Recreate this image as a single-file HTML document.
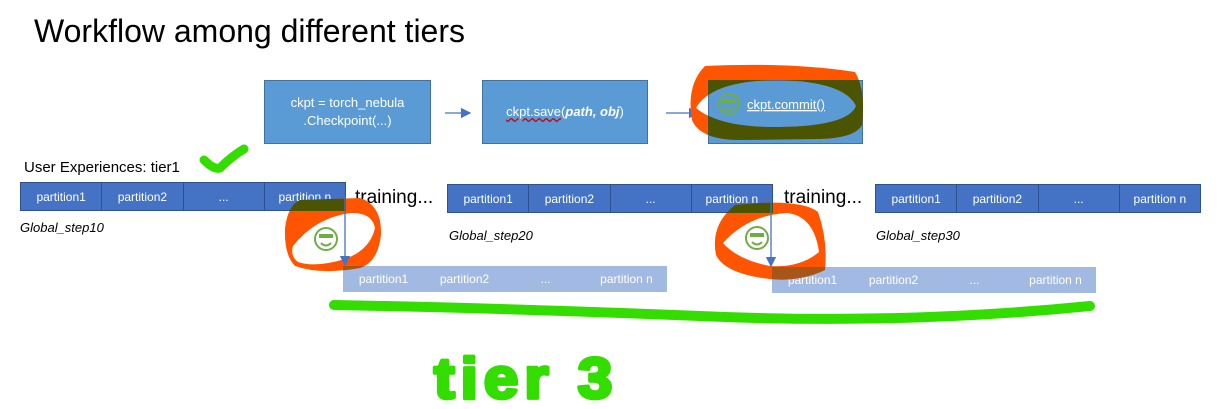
<!DOCTYPE html>
<html><head><meta charset="utf-8"><style>
body{margin:0;width:1228px;height:409px;background:#fff;position:relative;overflow:hidden;font-family:"Liberation Sans",sans-serif}
.a{position:absolute}
.box{position:absolute;background:#5b9bd5;border:1px solid #41719c;color:#fff;font-size:13px;display:flex;align-items:center;justify-content:center;text-align:center;line-height:18px;box-sizing:border-box}
.bar{position:absolute;height:29px;display:flex;background:#4472c4;border:1px solid #2f528f;box-sizing:border-box}
.bar div{flex:1;color:#fff;font-size:12px;display:flex;align-items:center;justify-content:center;border-right:1px solid #2f528f}
.bar div:last-child{border-right:none}
.lbar{position:absolute;height:26px;display:flex;background:#a2b9e1}
.lbar div{flex:1;color:#fff;font-size:12px;display:flex;align-items:center;justify-content:center}
.it{position:absolute;font-style:italic;font-size:13px;color:#000}
.tr{position:absolute;font-size:19px;color:#000}
</style></head><body>
<div class="a" style="left:34px;top:13px;font-size:32px;color:#000">Workflow among different tiers</div>
<div class="box" style="left:264px;top:80px;width:167px;height:64px">ckpt = torch_nebula<br>.Checkpoint(...)</div>
<div class="box" style="left:482px;top:80px;width:166px;height:64px"><span style="text-decoration:underline wavy #c00">ckpt.save</span>(<b><i>path, obj</i></b>)</div>
<div class="box" style="left:708px;top:80px;width:155px;height:64px"></div>
<div class="a" style="left:24px;top:159px;font-size:15px">User Experiences: tier1</div>
<div class="bar" style="left:20px;top:182px;width:326px"><div>partition1</div><div>partition2</div><div>...</div><div>partition n</div></div>
<div class="bar" style="left:447px;top:184px;width:326px"><div>partition1</div><div>partition2</div><div>...</div><div>partition n</div></div>
<div class="bar" style="left:875px;top:184px;width:326px"><div>partition1</div><div>partition2</div><div>...</div><div>partition n</div></div>
<div class="tr" style="left:355px;top:187px">training...</div>
<div class="tr" style="left:784px;top:187px">training...</div>
<div class="it" style="left:20px;top:220px">Global_step10</div>
<div class="it" style="left:449px;top:228px">Global_step20</div>
<div class="it" style="left:876px;top:228px">Global_step30</div>
<div class="lbar" style="left:343px;top:266px;width:324px"><div>partition1</div><div>partition2</div><div>...</div><div>partition n</div></div>
<div class="lbar" style="left:772px;top:267px;width:324px"><div>partition1</div><div>partition2</div><div>...</div><div>partition n</div></div>
<svg class="a" style="left:0;top:0" width="1228" height="409">
<defs>
<marker id="m" markerWidth="8" markerHeight="8" refX="7" refY="4" orient="auto"><path d="M0,0L8,4L0,8z" fill="#4472c4"/></marker>
<clipPath id="c1"><rect x="708" y="80" width="155" height="64"/></clipPath>
<clipPath id="c2"><rect x="20" y="182" width="326" height="29"/><rect x="447" y="184" width="326" height="29"/></clipPath>
<clipPath id="c3"><rect x="343" y="266" width="324" height="26"/><rect x="772" y="267" width="324" height="26"/></clipPath>
<path id="r0" fill-rule="evenodd" d="M705,66 Q790,62 855,72 Q866,90 862,125 Q855,138 820,139 L740,140 Q700,140 692,120 Q686,85 705,66Z M696,108 Q712,80 780,80 Q845,82 856,106 Q848,126 780,127 Q720,128 696,108Z"/>
<path id="r2" fill-rule="evenodd" d="M735,205 Q800,198 818,212 Q828,240 825,270 Q800,282 770,279 Q725,274 716,255 Q710,225 735,205Z M723,243 Q748,215 787,213 Q814,216 819,252 Q800,268 770,266 Q738,260 723,243Z"/>
<path id="r1" fill-rule="evenodd" d="M300,200 L360,198 Q382,205 381,235 Q378,262 360,268 Q320,275 295,266 Q284,255 285,228 Q288,205 300,200Z M293,246 Q315,218 350,213 Q372,212 375,228 Q370,250 345,259 Q315,268 298,262 Q290,256 293,246Z"/>
</defs>
<line x1="445" y1="113" x2="470" y2="113" stroke="#4472c4" stroke-width="1.3" marker-end="url(#m)"/>
<line x1="666" y1="113" x2="698" y2="113" stroke="#4472c4" stroke-width="1.3" marker-end="url(#m)"/>
<g fill="#ff5500"><use href="#r0"/><use href="#r1"/><use href="#r2"/></g>
<g clip-path="url(#c1)" fill="#4b5400"><use href="#r0"/></g>
<g clip-path="url(#c2)" fill="#4b5400"><use href="#r1"/><use href="#r2"/></g>
<g clip-path="url(#c3)" fill="#a8551a"><use href="#r1"/><use href="#r2"/></g>
<line x1="345" y1="196" x2="345" y2="265" stroke="#4472c4" stroke-width="1.3" marker-end="url(#m)"/>
<line x1="771" y1="196" x2="771" y2="266" stroke="#4472c4" stroke-width="1.3" marker-end="url(#m)"/>
<g fill="none" stroke="#70ad47" stroke-width="2">
<circle cx="729" cy="104" r="10"/><circle cx="326" cy="239" r="11" fill="#fff"/><circle cx="757" cy="238" r="11" fill="#fff"/>
<path d="M724,108 Q729,112 734,108"/><path d="M321,243 Q326,248 331,243"/><path d="M752,242 Q757,247 762,242"/>
</g>
<g fill="#70ad47"><rect x="722" y="99" width="14" height="4"/><rect x="319" y="234" width="14" height="4"/><rect x="750" y="233" width="14" height="4"/></g>
<text x="747" y="109" fill="#fff" font-size="13" text-decoration="underline">ckpt.commit()</text>
<path d="M204,160 Q214,170 220,168 Q232,156 244,149" fill="none" stroke="#33dd00" stroke-width="9" stroke-linecap="round"/>
<path d="M334,305 Q500,308 700,316 Q900,325 1090,306" fill="none" stroke="#33dd00" stroke-width="10" stroke-linecap="round"/>
<text x="434" y="398" fill="#33dd00" stroke="#33dd00" stroke-width="4" stroke-linejoin="round" font-size="62" font-weight="bold" letter-spacing="6" transform="translate(434,398) scale(1.0,0.92) translate(-434,-398)">tier 3</text>
</svg>
</body></html>
